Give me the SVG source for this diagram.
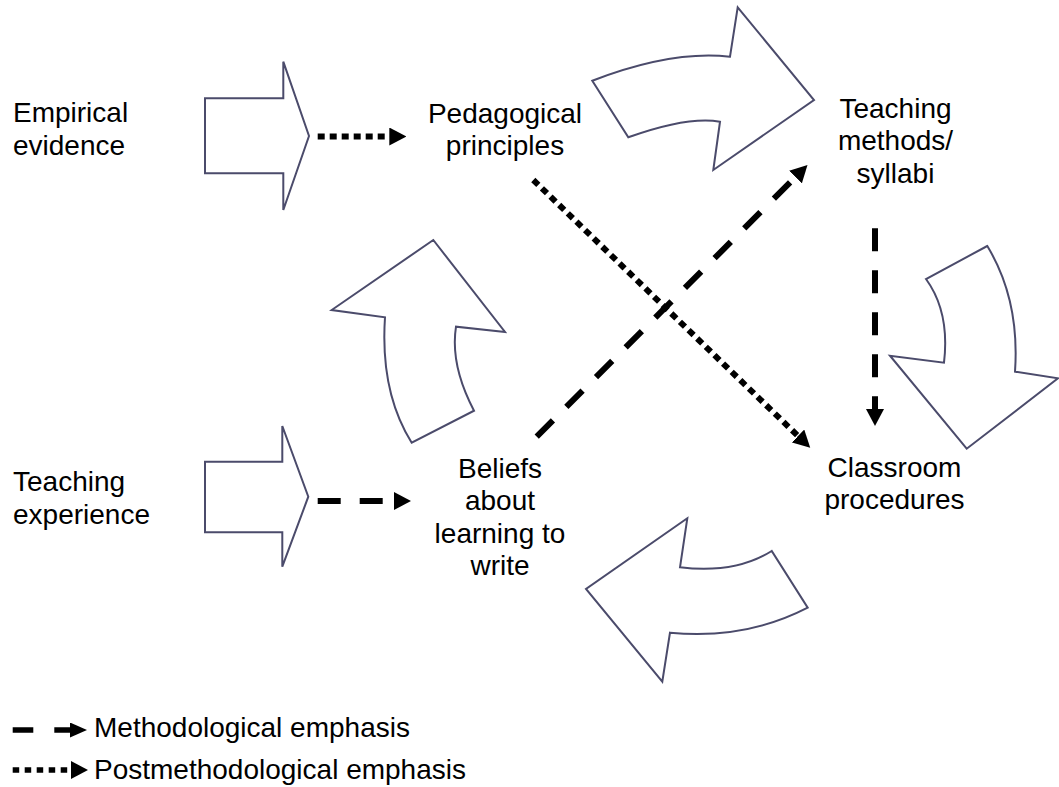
<svg xmlns="http://www.w3.org/2000/svg" width="1059" height="787" viewBox="0 0 1059 787">
<style>
.lbl{font-family:"Liberation Sans",Arial,sans-serif;font-size:28px;fill:#000}
.mid{text-anchor:middle}
.shape{fill:#fff;stroke:#4b4b6b;stroke-width:2;stroke-linejoin:miter}
.dash{fill:none;stroke:#000;stroke-width:6;stroke-dasharray:23 19}
.dot{fill:none;stroke:#000;stroke-width:6;stroke-dasharray:7 5}
</style>
<defs>
<marker id="ah" viewBox="0 0 17 18" refX="0" refY="9" markerWidth="17" markerHeight="18" markerUnits="userSpaceOnUse" orient="auto"><path d="M0,0 L17,9 L0,18 z" fill="#000"/></marker>
<marker id="ahs" viewBox="0 0 17 15" refX="0" refY="7.5" markerWidth="17" markerHeight="15" markerUnits="userSpaceOnUse" orient="auto"><path d="M0,0 L17,7.5 L0,15 z" fill="#000"/></marker>
</defs>
<rect width="1059" height="787" fill="#fff"/>
<g id="shapes">
<polygon id="arrow-empirical" class="shape" points="205,98.3 283.3,98.3 283.3,61.7 309,136 283.3,210 283.3,173.3 205,173.3"/>
<polygon id="arrow-experience" class="shape" points="205,461.7 282.3,461.7 282.3,426 308.3,496.7 282.3,566.7 282.3,532.3 205,532.3"/>
<path id="curve-top" class="shape" d="M592.3,80.7 Q672,50 730,56.7 L737.7,7.3 L814,100 L713.3,170 L720,121.7 Q688,116 628.3,137.3 Z"/>
<path id="curve-right" class="shape" d="M987.3,246 L926,279 Q950,312 944,362.7 L890,355.7 L966.7,448.7 L1058,378.3 L1015,371.7 Q1020,300 987.3,246 Z"/>
<path id="curve-bottom" class="shape" d="M687.3,518.3 L586,589 L662.3,681.7 L670,632.7 Q745,640 807.7,607.7 L771.7,551 Q735,574 680,567.3 Z"/>
<path id="curve-left" class="shape" d="M433.3,240 L331.7,310 L385,317.3 Q380,392 411.7,442.7 L474,410.7 Q450,365 456,326.7 L505,332 Z"/>
</g>
<g id="connectors">
<line class="dot" x1="317.7" y1="136.5" x2="389.3" y2="136.5" marker-end="url(#ah)"/>
<line class="dash" x1="317.7" y1="501" x2="394" y2="501" marker-end="url(#ah)"/>
<line class="dash" x1="875" y1="228.3" x2="875" y2="409" stroke-width="7" stroke-dasharray="23.3 18.4" marker-end="url(#ah)"/>
<line class="dot" x1="533.3" y1="180" x2="798" y2="436" marker-end="url(#ah)"/>
<line class="dash" x1="536.7" y1="436.7" x2="795.5" y2="177" marker-end="url(#ah)"/>
</g>
<g id="node-empirical"><text class="lbl" x="13" y="122.3">Empirical<tspan x="13" dy="32.5">evidence</tspan></text></g>
<g id="node-pedagogical"><text class="lbl mid" x="505" y="122.7">Pedagogical<tspan x="505" dy="32.5">principles</tspan></text></g>
<g id="node-methods"><text class="lbl mid" x="895.5" y="117.7">Teaching<tspan x="895.5" dy="32.5">methods/</tspan><tspan x="895.5" dy="32.5">syllabi</tspan></text></g>
<g id="node-classroom"><text class="lbl mid" x="894.5" y="476.7">Classroom<tspan x="894.5" dy="32">procedures</tspan></text></g>
<g id="node-experience"><text class="lbl" x="13" y="491">Teaching<tspan x="13" dy="32.5">experience</tspan></text></g>
<g id="node-beliefs"><text class="lbl mid" x="500" y="477.5">Beliefs<tspan x="500" dy="32.5">about</tspan><tspan x="500" dy="32.5">learning to</tspan><tspan x="500" dy="32.5">write</tspan></text></g>
<g id="legend">
<line x1="12.7" y1="730" x2="70" y2="730" stroke="#000" stroke-width="5.3" stroke-dasharray="20.6 21" marker-end="url(#ahs)"/>
<text class="lbl" x="94" y="737">Methodological emphasis</text>
<line x1="12.7" y1="770" x2="71" y2="770" stroke="#000" stroke-width="5.5" stroke-dasharray="6.5 5.5" marker-end="url(#ah)"/>
<text class="lbl" x="94" y="779.3">Postmethodological emphasis</text>
</g>
</svg>
